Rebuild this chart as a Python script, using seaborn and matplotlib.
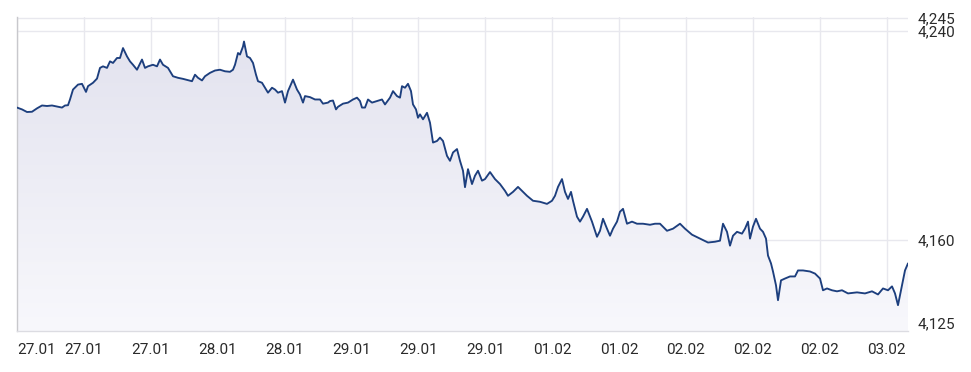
import numpy as np
import pandas as pd
import matplotlib
matplotlib.use("Agg")
import matplotlib.pyplot as plt
import seaborn as sns

# elapsed time units (one date-tick step = 66.9 units)
t = [0, 5, 10, 15, 20, 25, 30, 35, 40, 45, 48, 51, 53, 56, 61, 65, 69, 71, 76, 80,
     83, 86, 90, 93, 96, 100, 103, 106, 110, 113, 116, 120, 125, 128, 131, 136, 140, 143, 146, 151,
     156, 161, 166, 171, 175, 178, 181, 185, 188, 193, 198, 203, 208, 213, 216, 218, 221, 223, 226, 227,
     230, 233, 236, 239, 241, 245, 248, 251, 255, 258, 261, 265, 268, 271, 276, 280, 283, 286, 288, 293,
     298, 303, 306, 311, 313, 316, 319, 321, 326, 331, 336, 340, 343, 345, 348, 351, 355, 360, 365, 368,
     373, 376, 380, 383, 385, 388, 391, 394, 396, 399, 401, 403, 406, 410, 413, 416, 420, 423, 426, 430,
     433, 436, 440, 443, 446, 448, 451, 455, 458, 461, 465, 468, 473, 478, 483, 488, 491, 496, 501, 506,
     510, 516, 523, 530, 535, 538, 541, 545, 548, 551, 554, 556, 560, 563, 566, 570, 575, 580, 583, 586,
     590, 593, 596, 600, 603, 606, 610, 615, 620, 626, 633, 638, 643, 650, 656, 663, 668, 675, 683, 691,
     698, 703, 706, 710, 713, 716, 720, 725, 728, 731, 733, 736, 739, 743, 746, 749, 751, 754, 756, 759,
     761, 764, 768, 773, 778, 781, 786, 793, 798, 803, 806, 810, 815, 820, 825, 831, 840, 848, 855, 861,
     866, 871, 875, 878, 881, 885, 888, 891]

price = [4210.6, 4209.9, 4208.9, 4209.0, 4210.3, 4211.4, 4211.2, 4211.4, 4211.0, 4210.6,
         4211.4, 4211.5, 4213.7, 4217.5, 4219.4, 4219.7, 4216.6, 4218.8, 4220.1, 4221.7,
         4225.8, 4226.4, 4225.8, 4228.3, 4227.7, 4229.6, 4229.6, 4233.4, 4230.2, 4228.3,
         4227.0, 4225.1, 4229.0, 4225.8, 4226.4, 4227.0, 4226.4, 4229.0, 4227.0, 4225.8,
         4222.6, 4222.0, 4221.6, 4221.1, 4220.7, 4223.2, 4222.0, 4221.0, 4222.6, 4223.9,
         4224.8, 4225.1, 4224.5, 4224.3, 4225.1, 4227.0, 4231.5, 4230.9, 4234.0, 4235.9,
         4230.2, 4229.6, 4227.7, 4223.2, 4220.7, 4220.1, 4218.2, 4216.3, 4218.2, 4217.5,
         4216.3, 4216.9, 4212.5, 4216.9, 4221.3, 4217.5, 4215.6, 4212.5, 4215.0, 4214.6,
         4213.7, 4213.7, 4212.1, 4212.5, 4213.1, 4213.3, 4209.9, 4210.9, 4212.1, 4212.5,
         4213.7, 4214.4, 4213.1, 4210.6, 4210.6, 4213.7, 4212.5, 4213.1, 4213.7, 4211.8,
         4214.4, 4216.9, 4215.0, 4214.4, 4218.8, 4218.2, 4219.7, 4216.9, 4211.8, 4209.9,
         4206.7, 4208.0, 4206.1, 4208.6, 4204.8, 4197.2, 4197.8, 4199.1, 4197.8, 4192.1,
         4190.2, 4193.4, 4194.7, 4190.2, 4186.4, 4180.1, 4187.0, 4181.3, 4184.5, 4186.4,
         4182.6, 4183.2, 4185.9, 4183.2, 4181.3, 4178.7, 4176.8, 4178.3, 4180.2, 4178.3,
         4176.8, 4174.9, 4174.5, 4173.7, 4174.9, 4176.8, 4180.2, 4183.2, 4178.3, 4175.6,
         4178.3, 4174.9, 4168.8, 4166.9, 4168.8, 4171.8, 4166.9, 4161.1, 4163.4, 4168.0,
         4164.2, 4161.5, 4164.2, 4166.9, 4170.7, 4171.8, 4166.1, 4166.9, 4166.1, 4166.1,
         4165.7, 4166.1, 4166.1, 4163.4, 4164.2, 4166.1, 4164.2, 4161.9, 4160.4, 4158.9,
         4159.2, 4159.6, 4166.1, 4163.0, 4157.7, 4161.5, 4163.0, 4162.3, 4164.2, 4166.9,
         4160.4, 4165.0, 4168.0, 4164.2, 4163.0, 4160.4, 4153.9, 4150.9, 4147.8, 4142.5,
         4136.8, 4144.4, 4145.1, 4145.9, 4145.9, 4148.2, 4148.2, 4147.8, 4147.0, 4145.1,
         4140.6, 4141.3, 4140.6, 4140.2, 4140.6, 4139.4, 4139.8, 4139.4, 4140.2, 4139.0,
         4141.3, 4140.6, 4142.1, 4139.4, 4134.9, 4142.5, 4148.2, 4150.9]

x_tick_labels = ["27.01", "27.01", "27.01", "28.01", "28.01", "29.01", "29.01",
                 "29.01", "01.02", "01.02", "02.02", "02.02", "02.02", "03.02"]
y_ticks = [4125, 4160, 4240, 4245]
y_tick_labels = ["4,125", "4,160", "4,240", "4,245"]

df = pd.DataFrame({"t": t, "price": price})

sns.set_theme(style="white")
plt.rcParams["font.family"] = ["Roboto", "DejaVu Sans"]

W, H = 971, 372
fig = plt.figure(figsize=(W / 100, H / 100), dpi=100)
ax = fig.add_axes([17 / W, 1 - 331 / H, (908 - 17) / W, (331 - 17) / H])

x_max = 891
y_min, y_max = 4125, 4245.3
tick_step = 66.9

# gradient area under the line
poly = ax.fill_between(df["t"], df["price"], y_min, color="none", lw=0)
grad = np.linspace(0, 1, 256).reshape(-1, 1)
cmap = matplotlib.colors.LinearSegmentedColormap.from_list(
    "g", ["#f8f8fc", "#e3e3ef"])
img = ax.imshow(grad, aspect="auto", cmap=cmap, origin="lower",
                extent=[0, x_max, y_min, max(price)], zorder=1)
img.set_clip_path(poly.get_paths()[0], transform=ax.transData)

sns.lineplot(data=df, x="t", y="price", ax=ax, color="#1d3f7e",
             linewidth=1.35, zorder=3)

ax.set_xlim(0, x_max)
ax.set_ylim(y_min, y_max)

xt = np.arange(len(x_tick_labels)) * tick_step
ax.set_xticks(xt)
ax.set_xticklabels(x_tick_labels)
ax.set_yticks(y_ticks)
ax.set_yticklabels(y_tick_labels)
ax.yaxis.tick_right()
ax.set_xlabel("")
ax.set_ylabel("")

ax.grid(True, color="#e8e8ee", linewidth=1.0, zorder=0)
ax.set_axisbelow(True)
ax.tick_params(axis="both", length=0, labelsize=11, colors="#2a2a2a")
ax.tick_params(axis="x", pad=9)
ax.tick_params(axis="y", pad=7)

xl = ax.get_xticklabels()
xl[0].set_ha("left")
for lab in xl[1:]:
    lab.set_ha("center")
for lab in ax.get_yticklabels():
    if lab.get_text() == "4,125":
        lab.set_va("bottom")

for s in ["top", "right"]:
    ax.spines[s].set_visible(False)
ax.spines["left"].set_color("#c8c8cc")
ax.spines["left"].set_linewidth(1.0)
ax.spines["bottom"].set_color("#dcdce2")
ax.spines["bottom"].set_linewidth(1.0)

fig.savefig("out.png", dpi=100)
